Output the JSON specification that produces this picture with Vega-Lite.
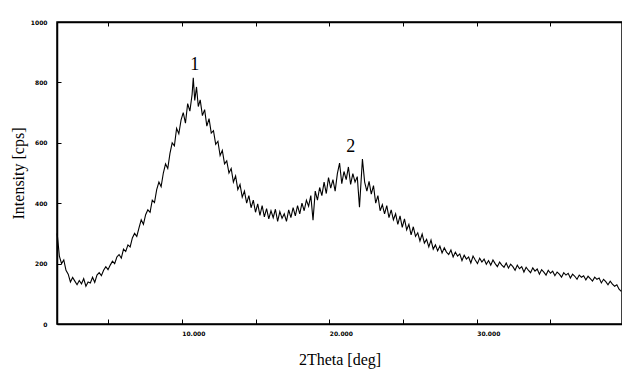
{
  "$schema": "https://vega.github.io/schema/vega-lite/v6.json",
  "width": 565,
  "height": 302,
  "autosize": {"type": "none"},
  "padding": {"left": 57, "top": 22, "right": 0, "bottom": 45},
  "background": "white",
  "config": {"view": {"stroke": "black", "strokeWidth": 1.5}},
  "datasets": {
    "xrd": [
      {"d":1.55,"v":300},{"d":1.7,"v":225},{"d":1.85,"v":200},{"d":2.0,"v":212},{"d":2.15,"v":178},{"d":2.3,"v":165},{"d":2.45,"v":139},{"d":2.6,"v":154},{"d":2.75,"v":142},{"d":2.9,"v":130},{"d":3.05,"v":144},{"d":3.2,"v":133},{"d":3.35,"v":150},{"d":3.5,"v":125},{"d":3.65,"v":139},{"d":3.8,"v":136},{"d":3.95,"v":155},{"d":4.1,"v":138},{"d":4.25,"v":162},{"d":4.4,"v":170},{"d":4.55,"v":160},{"d":4.7,"v":178},{"d":4.85,"v":190},{"d":5.0,"v":180},
      {"d":5.15,"v":195},{"d":5.3,"v":208},{"d":5.45,"v":200},{"d":5.6,"v":222},{"d":5.75,"v":230},{"d":5.9,"v":218},{"d":6.05,"v":248},{"d":6.2,"v":240},{"d":6.35,"v":262},{"d":6.5,"v":255},{"d":6.65,"v":285},{"d":6.8,"v":300},{"d":6.95,"v":290},{"d":7.1,"v":318},{"d":7.25,"v":345},{"d":7.4,"v":330},{"d":7.55,"v":362},{"d":7.7,"v":378},{"d":7.85,"v":370},{"d":8.0,"v":410},{"d":8.15,"v":402},{"d":8.3,"v":445},{"d":8.45,"v":470},{"d":8.6,"v":455},{"d":8.75,"v":500},{"d":8.9,"v":530},{"d":9.05,"v":515},{"d":9.2,"v":565},{"d":9.35,"v":600},{"d":9.5,"v":590},{"d":9.65,"v":648},{"d":9.8,"v":630},{"d":9.95,"v":675},{"d":10.1,"v":700},{"d":10.25,"v":665},{"d":10.4,"v":730},{"d":10.55,"v":705},{"d":10.7,"v":760},{"d":10.78,"v":815},{"d":10.88,"v":740},{"d":11.0,"v":785},{"d":11.12,"v":720},{"d":11.25,"v":742},{"d":11.4,"v":690},{"d":11.55,"v":710},{"d":11.7,"v":655},{"d":11.85,"v":680},{"d":12.0,"v":632},{"d":12.15,"v":640},{"d":12.3,"v":595},{"d":12.45,"v":605},{"d":12.6,"v":558},{"d":12.75,"v":575},{"d":12.9,"v":530},{"d":13.05,"v":540},{"d":13.2,"v":500},{"d":13.35,"v":515},{"d":13.5,"v":470},{"d":13.65,"v":490},{"d":13.8,"v":445},{"d":13.95,"v":462},{"d":14.1,"v":420},{"d":14.25,"v":440},{"d":14.4,"v":400},{"d":14.55,"v":425},{"d":14.7,"v":385},{"d":14.85,"v":410},{"d":15.0,"v":370},{"d":15.15,"v":398},{"d":15.3,"v":360},{"d":15.45,"v":392},{"d":15.6,"v":355},{"d":15.75,"v":382},{"d":15.9,"v":348},{"d":16.05,"v":375},{"d":16.2,"v":352},{"d":16.35,"v":380},{"d":16.5,"v":340},{"d":16.65,"v":372},{"d":16.8,"v":350},{"d":16.95,"v":365},{"d":17.1,"v":340},{"d":17.25,"v":378},{"d":17.4,"v":352},{"d":17.55,"v":385},{"d":17.7,"v":358},{"d":17.85,"v":392},{"d":18.0,"v":365},{"d":18.15,"v":400},{"d":18.3,"v":375},{"d":18.45,"v":410},{"d":18.6,"v":390},{"d":18.75,"v":425},{"d":18.9,"v":344},{"d":19.05,"v":440},{"d":19.2,"v":410},{"d":19.35,"v":452},{"d":19.5,"v":425},{"d":19.65,"v":470},{"d":19.8,"v":432},{"d":19.95,"v":485},{"d":20.1,"v":450},{"d":20.25,"v":478},{"d":20.4,"v":440},{"d":20.55,"v":498},{"d":20.7,"v":533},{"d":20.85,"v":465},{"d":21.0,"v":505},{"d":21.15,"v":478},{"d":21.3,"v":520},{"d":21.45,"v":462},{"d":21.6,"v":498},{"d":21.75,"v":470},{"d":21.9,"v":488},{"d":22.05,"v":387},{"d":22.25,"v":546},{"d":22.4,"v":470},{"d":22.55,"v":440},{"d":22.7,"v":472},{"d":22.85,"v":430},{"d":23.0,"v":458},{"d":23.15,"v":400},{"d":23.3,"v":425},{"d":23.45,"v":375},{"d":23.6,"v":395},{"d":23.75,"v":365},{"d":23.9,"v":392},{"d":24.05,"v":352},{"d":24.2,"v":378},{"d":24.35,"v":345},{"d":24.5,"v":365},{"d":24.65,"v":330},{"d":24.8,"v":358},{"d":24.95,"v":320},{"d":25.1,"v":348},{"d":25.25,"v":312},{"d":25.4,"v":330},{"d":25.55,"v":295},{"d":25.7,"v":322},{"d":25.85,"v":290},{"d":26.0,"v":302},{"d":26.15,"v":275},{"d":26.3,"v":298},{"d":26.45,"v":268},{"d":26.6,"v":280},{"d":26.75,"v":255},{"d":26.9,"v":278},{"d":27.05,"v":248},{"d":27.2,"v":262},{"d":27.35,"v":242},{"d":27.5,"v":258},{"d":27.65,"v":235},{"d":27.8,"v":252},{"d":27.95,"v":238},{"d":28.1,"v":230},{"d":28.25,"v":245},{"d":28.4,"v":222},{"d":28.55,"v":238},{"d":28.7,"v":225},{"d":28.85,"v":232},{"d":29.0,"v":210},{"d":29.15,"v":228},{"d":29.3,"v":215},{"d":29.45,"v":222},{"d":29.6,"v":202},{"d":29.75,"v":225},{"d":29.9,"v":212},{"d":30.05,"v":200},{"d":30.2,"v":218},{"d":30.35,"v":205},{"d":30.5,"v":215},{"d":30.65,"v":198},{"d":30.8,"v":210},{"d":30.95,"v":195},{"d":31.1,"v":212},{"d":31.25,"v":200},{"d":31.4,"v":190},{"d":31.55,"v":205},{"d":31.7,"v":195},{"d":31.85,"v":188},{"d":32.0,"v":202},{"d":32.15,"v":185},{"d":32.3,"v":198},{"d":32.45,"v":190},{"d":32.6,"v":178},{"d":32.75,"v":195},{"d":32.9,"v":183},{"d":33.05,"v":190},{"d":33.2,"v":172},{"d":33.35,"v":188},{"d":33.5,"v":178},{"d":33.65,"v":170},{"d":33.8,"v":186},{"d":33.95,"v":175},{"d":34.1,"v":182},{"d":34.25,"v":165},{"d":34.4,"v":180},{"d":34.55,"v":172},{"d":34.7,"v":162},{"d":34.85,"v":178},{"d":35.0,"v":168},{"d":35.15,"v":175},{"d":35.3,"v":160},{"d":35.45,"v":172},{"d":35.6,"v":165},{"d":35.75,"v":155},{"d":35.9,"v":170},{"d":36.05,"v":162},{"d":36.2,"v":168},{"d":36.35,"v":152},{"d":36.5,"v":165},{"d":36.65,"v":158},{"d":36.8,"v":148},{"d":36.95,"v":162},{"d":37.1,"v":155},{"d":37.25,"v":160},{"d":37.4,"v":146},{"d":37.55,"v":158},{"d":37.7,"v":150},{"d":37.85,"v":142},{"d":38.0,"v":155},{"d":38.15,"v":148},{"d":38.3,"v":152},{"d":38.45,"v":136},{"d":38.6,"v":148},{"d":38.75,"v":140},{"d":38.9,"v":130},{"d":39.05,"v":142},{"d":39.2,"v":132},{"d":39.35,"v":125},{"d":39.5,"v":130},{"d":39.65,"v":115},{"d":39.8,"v":108}
    ],
    "labels": [
      {"d": 10.88, "v": 858, "t": "1"},
      {"d": 21.46, "v": 586, "t": "2"}
    ]
  },
  "resolve": {"axis": {"x": "independent"}},
  "layer": [
    {
      "data": {"name": "xrd"},
      "mark": {"type": "line", "color": "black", "strokeWidth": 1.1, "interpolate": "linear"},
      "encoding": {
        "x": {"field": "d", "type": "quantitative",
          "scale": {"domain": [1.54, 39.85], "nice": false, "zero": false},
          "axis": {"orient": "bottom", "values": [5, 10, 15, 20, 25, 30, 35],
            "labelExpr": "datum.value % 10 == 0 ? format(datum.value, '.3f') : ''",
            "title": "2Theta [deg]", "titleFont": "Liberation Serif", "titleFontSize": 16, "titleFontWeight": "normal", "titleColor": "black",
            "titleY": 27, "titleBaseline": "top",
            "labelFont": "DejaVu Sans", "labelFontSize": 6, "labelFontWeight": "bold", "labelColor": "black",
            "labelAlign": "left", "labelDx": -1,
            "tickSize": -5, "tickColor": "black", "labelPadding": 11, "labelFlush": false,
            "domain": true, "domainColor": "black", "domainWidth": 1.5, "grid": false}},
        "y": {"field": "v", "type": "quantitative",
          "scale": {"domain": [0, 1000], "nice": false},
          "axis": {"values": [0, 100, 200, 300, 400, 500, 600, 700, 800, 900, 1000],
            "labelExpr": "datum.value % 200 == 0 ? datum.value : ''",
            "title": "Intensity [cps]", "titleFont": "Liberation Serif", "titleFontSize": 16, "titleFontWeight": "normal", "titleColor": "black",
            "titleX": -39, "titleBaseline": "middle",
            "labelFont": "DejaVu Sans", "labelFontSize": 6, "labelFontWeight": "bold", "labelColor": "black",
            "labelDy": -3,
            "tickSize": -4, "tickColor": "black", "labelPadding": 14,
            "domain": true, "domainColor": "black", "domainWidth": 1.5, "grid": false}}
      }
    },
    {
      "data": {"name": "xrd"},
      "mark": {"type": "line", "opacity": 0},
      "encoding": {
        "x": {"field": "d", "type": "quantitative",
          "axis": {"orient": "top", "values": [5, 10, 15, 20, 25, 30, 35], "labels": false, "title": null,
            "tickSize": -4, "tickColor": "black", "domainColor": "black", "domainWidth": 1.5, "grid": false}},
        "y": {"field": "v", "type": "quantitative"}
      }
    },
    {
      "data": {"name": "labels"},
      "mark": {"type": "text", "font": "Liberation Serif", "fontSize": 18, "color": "black", "baseline": "middle", "align": "center"},
      "encoding": {
        "x": {"field": "d", "type": "quantitative", "axis": null},
        "y": {"field": "v", "type": "quantitative"},
        "text": {"field": "t"}
      }
    }
  ]
}
